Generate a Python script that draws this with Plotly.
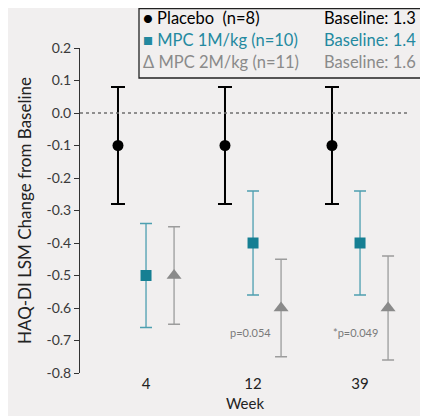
import plotly.graph_objects as go

weeks = ["4", "12", "39"]
placebo_mean = [-0.10, -0.10, -0.10]
placebo_err = [0.18, 0.18, 0.18]
mpc1_mean = [-0.50, -0.40, -0.40]
mpc1_err = [0.16, 0.16, 0.16]
mpc2_mean = [-0.50, -0.60, -0.60]
mpc2_err = [0.15, 0.15, 0.16]
p_labels = ["", "p=0.054", "*p=0.049"]
y_ticks = [0.2, 0.1, 0.0, -0.1, -0.2, -0.3, -0.4, -0.5, -0.6, -0.7, -0.8]
y_ticktext = ["0.2", "0.1", "0.0", "-0.1", "-0.2", "-0.3", "-0.4", "-0.5", "-0.6", "-0.7", "-0.8"]
legend_names = ["Placebo&nbsp;&nbsp;(n=8)", "MPC 1M/kg (n=10)", "MPC 2M/kg (n=11)"]
legend_symbols = ["\u25CF", "\u25A0", "\u0394"]
legend_baselines = ["Baseline: 1.3", "Baseline: 1.4", "Baseline: 1.6"]

BLACK = "#000000"
TEAL = "#167f93"
TEAL_TEXT = "#2389a0"
TEAL_LIGHT = "#4d9fb0"
GRAY = "#8a8a8a"
GRAY_LIGHT = "#9c9c9c"
BG = "#f1efef"
FONT = "Lato"

xc = list(range(1, len(weeks) + 1))
off = 0.262

fig = go.Figure()
fig.add_trace(go.Scatter(
    x=[v - off for v in xc], y=placebo_mean, mode="markers",
    marker=dict(symbol="circle", size=11, color=BLACK),
    error_y=dict(type="data", array=placebo_err, color=BLACK, thickness=2, width=7),
    showlegend=False))
fig.add_trace(go.Scatter(
    x=xc, y=mpc1_mean, mode="markers",
    marker=dict(symbol="square", size=11, color=TEAL),
    error_y=dict(type="data", array=mpc1_err, color=TEAL_LIGHT, thickness=1.3, width=6),
    showlegend=False))
fig.add_trace(go.Scatter(
    x=[v + off for v in xc], y=mpc2_mean, mode="markers",
    marker=dict(symbol="triangle-up", size=13, color=GRAY),
    error_y=dict(type="data", array=mpc2_err, color=GRAY_LIGHT, thickness=1.3, width=6),
    showlegend=False))

# p-value annotations next to MPC 2M triangles
for i, lab in enumerate(p_labels):
    if lab:
        fig.add_annotation(x=xc[i] + off - 0.075, y=mpc2_mean[i] - 0.074, text=lab,
                           showarrow=False, xanchor="right", yanchor="middle",
                           font=dict(family=FONT, size=11, color="#7a7a7a"))

# zero reference line
fig.add_shape(type="line", xref="paper", yref="y", x0=0, x1=1, y0=0, y1=0,
              line=dict(color="#6f6f6f", width=1.5, dash="dot"))

# legend box (pixel -> paper conversion)
L, R, T, B = 72, 26, 40, 51
W, H = 428, 416
pw, ph = W - L - R, H - T - B
def px(x):
    return (x - L) / pw
def py(y):
    return (H - B - y) / ph

fig.add_shape(type="rect", xref="paper", yref="paper",
              x0=px(131), x1=px(417), y0=py(70), y1=py(0.7),
              line=dict(color="#222222", width=1.3), fillcolor=BG, layer="above")
row_y = [10, 32, 54]
colors = [BLACK, TEAL_TEXT, GRAY]
for i in range(3):
    fig.add_annotation(xref="paper", yref="paper", x=px(133), y=py(row_y[i]),
                       text=legend_symbols[i] + " " + legend_names[i],
                       showarrow=False, xanchor="left", yanchor="middle",
                       font=dict(family=FONT, size=16.5, color=colors[i]))
    fig.add_annotation(xref="paper", yref="paper", x=px(410), y=py(row_y[i]),
                       text=legend_baselines[i],
                       showarrow=False, xanchor="right", yanchor="middle",
                       font=dict(family=FONT, size=16.5, color=colors[i]))

fig.update_layout(
    width=W, height=H,
    margin=dict(l=L, r=R, t=T, b=B, pad=0),
    paper_bgcolor=BG, plot_bgcolor=BG,
    font=dict(family=FONT, color="#333333"),
    xaxis=dict(range=[0.383, 3.467], tickvals=xc, ticktext=weeks,
               showgrid=False, zeroline=False, showline=False, ticks="",
               tickfont=dict(size=15, color="#222222"),
               title=dict(text="Week", font=dict(size=15, color="#222222"), standoff=7)),
    yaxis=dict(range=[-0.8, 0.2], tickvals=y_ticks, ticktext=y_ticktext,
               showgrid=False, zeroline=False, showline=True, linecolor="#333333",
               linewidth=1, ticks="outside", ticklen=5, tickcolor="#333333",
               tickfont=dict(size=14, color="#3a3a3a"),
               title=dict(text="HAQ-DI LSM Change from Baseline",
                          font=dict(size=17, color="#222222"), standoff=10)),
)

fig.write_html("out.html")
